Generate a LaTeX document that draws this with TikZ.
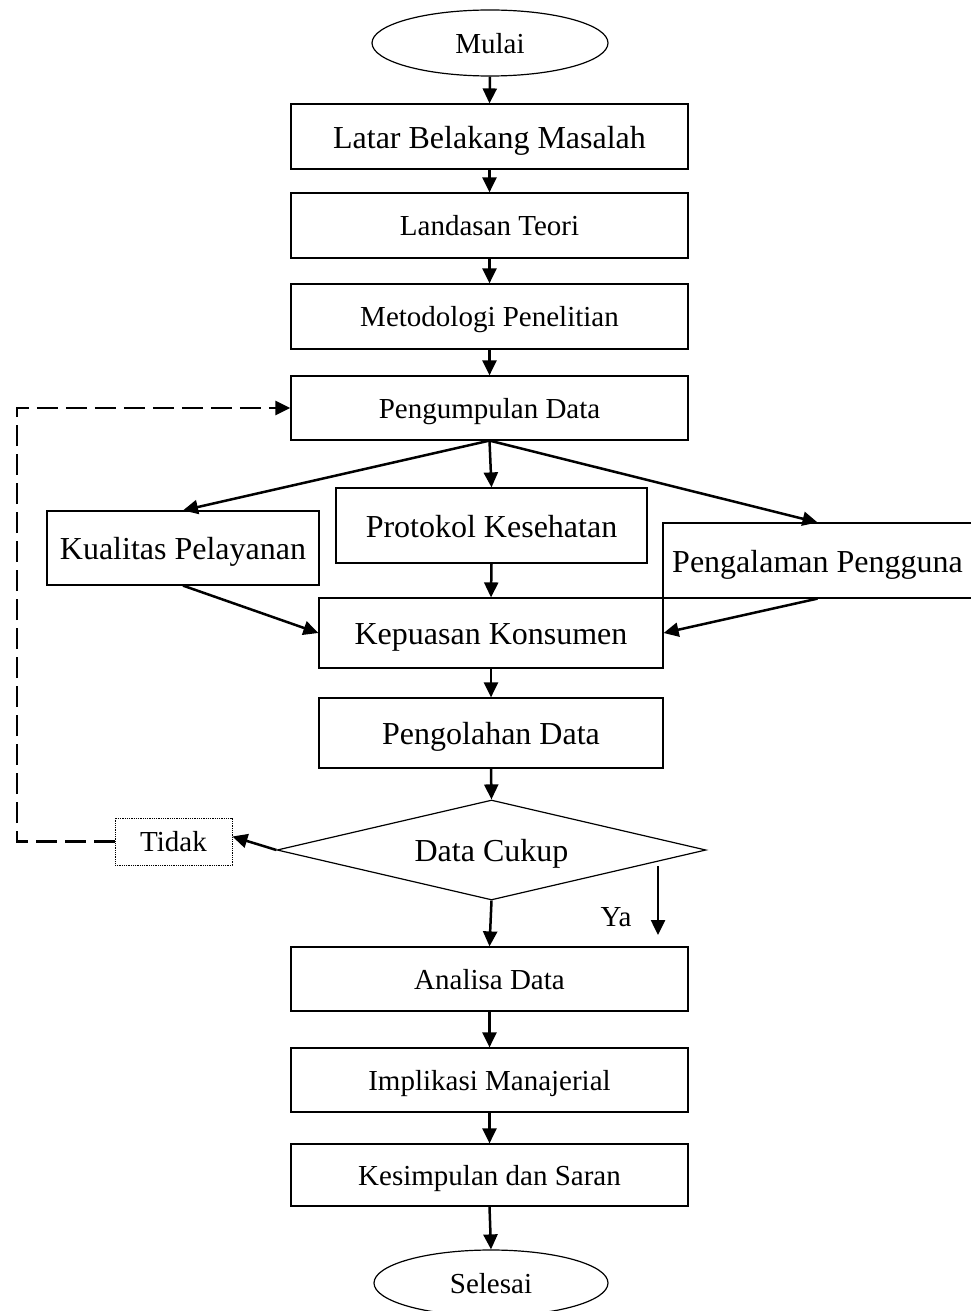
\documentclass[tikz,border=0pt]{standalone}
\usepackage{fontspec}
\setmainfont{Liberation Serif}
\usetikzlibrary{shapes.geometric,arrows.meta}
\begin{document}
\begin{tikzpicture}[x=1pt,y=-1pt,
  smalltxt/.style={font=\fontsize{29}{34}\selectfont,text height=27.5pt,text depth=6.7pt},
  bigtxt/.style={font=\fontsize{32}{38}\selectfont,text height=30.4pt,text depth=7.4pt},
  box/.style={draw,line width=1.2pt,inner sep=0pt,minimum width=397pt,smalltxt},
  bigbox/.style={draw,line width=1.2pt,inner sep=0pt,bigtxt},
  term/.style={draw,ellipse,line width=1.2pt,inner sep=0pt,smalltxt},
  arr/.style={line width=2.5pt,-{Triangle[length=15pt,width=14pt]}},
  dasharr/.style={line width=2.8pt,dash pattern=on 21pt off 8pt,-{Triangle[length=15pt,width=14pt]}}]
\useasboundingbox (0,0) rectangle (971,1311);
\node[term,minimum width=236pt,minimum height=66pt] (mulai) at (490,43) {Mulai};
\node[box,minimum height=65pt,bigtxt] (latar) at (489.5,136.5) {Latar Belakang Masalah};
\node[box,minimum height=65pt] (landasan) at (489.5,225.5) {Landasan Teori};
\node[box,minimum height=65pt] (metod) at (489.5,316.5) {Metodologi Penelitian};
\node[box,minimum height=64pt] (pengum) at (489.5,408) {Pengumpulan Data};
\node[bigbox,minimum width=311pt,minimum height=75pt] (protokol) at (491.5,525.5) {Protokol Kesehatan};
\node[bigbox,minimum width=272pt,minimum height=74pt] (kual) at (183,548) {Kualitas Pelayanan};
\node[bigbox,minimum width=309pt,minimum height=75pt] (pengal) at (817.5,560.5) {Pengalaman Pengguna};
\node[bigbox,minimum width=344pt,minimum height=70pt] (kepuasan) at (491,633) {Kepuasan Konsumen};
\node[bigbox,minimum width=344pt,minimum height=70pt] (olah) at (491,733) {Pengolahan Data};
\node[draw,diamond,shape aspect=4.29,line width=1.2pt,inner sep=0pt,bigtxt,minimum width=429pt,minimum height=100pt] (cukup) at (491.5,850) {Data Cukup};
\node[draw,densely dotted,line width=0.8pt,inner sep=0pt,smalltxt,minimum width=117pt,minimum height=47pt] (tidak) at (173.5,841.5) {Tidak};
\node[smalltxt,inner sep=0pt] (ya) at (616,916) {Ya};
\node[box,minimum height=64pt] (analisa) at (489.5,979) {Analisa Data};
\node[box,minimum height=64pt] (impl) at (489.5,1080) {Implikasi Manajerial};
\node[box,minimum height=62pt] (kesim) at (489.5,1175) {Kesimpulan dan Saran};
\node[term,minimum width=234pt,minimum height=66pt] (selesai) at (491,1283) {Selesai};
\coordinate (ya1) at (658,866);
\coordinate (ya2) at (658,935);
\coordinate (lc) at (17,841.5);
\draw[arr] (mulai.south) -- (latar.north);
\draw[arr] (latar.south) -- (landasan.north);
\draw[arr] (landasan.south) -- (metod.north);
\draw[arr] (metod.south) -- (pengum.north);
\draw[arr] (pengum.south) -- (protokol.north);
\draw[arr] (pengum.south) -- (kual.north);
\draw[arr] (pengum.south) -- (pengal.north);
\draw[arr] (kual.south) -- (kepuasan.west);
\draw[arr] (pengal.south) -- (kepuasan.east);
\draw[arr] (protokol.south) -- (kepuasan.north);
\draw[arr] (kepuasan.south) -- (olah.north);
\draw[arr] (olah.south) -- (cukup.north);
\draw[arr] (cukup.west) -- ([yshift=5pt]tidak.east);
\draw[dasharr] (tidak.west) -- (lc) |- (pengum.west);
\draw[arr] (cukup.south) -- (analisa.north);
\draw[arr] (ya1) -- (ya2);
\draw[arr] (analisa.south) -- (impl.north);
\draw[arr] (impl.south) -- (kesim.north);
\draw[arr] (kesim.south) -- (selesai.north);
\end{tikzpicture}
\end{document}
